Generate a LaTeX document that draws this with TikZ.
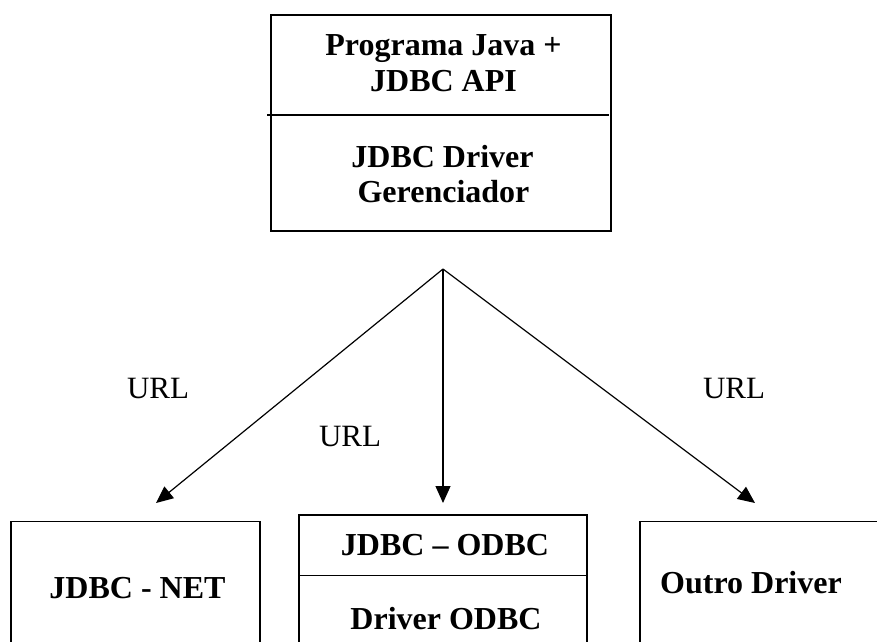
\documentclass[tikz,border=0pt]{standalone}
\usepackage{fontspec}
\setmainfont{Liberation Serif}
\usetikzlibrary{arrows.meta}
\tikzset{
  box/.style={draw, line width=1.4pt, inner sep=0pt},
  divider/.style={line width=1.4pt},
  lbl/.style={font=\bfseries\fontsize{32}{36}\selectfont, anchor=base, inner sep=0pt},
  url/.style={font=\fontsize{31}{36}\selectfont, anchor=base, inner sep=0pt},
  conn/.style={line width=1.2pt, -{Triangle[length=17pt,width=15pt]}},
  stem/.style={line width=1.2pt}
}
\begin{document}
\begin{tikzpicture}[x=1pt,y=-1pt]
\clip (0,0) rectangle (877,641);
\fill[white] (0,0) rectangle (877,641);
% top box
\node[box, minimum width=340pt, minimum height=216pt] (top) at (441,123) {};
\coordinate (dl) at (267,115);
\coordinate (dr) at (609,115);
\draw[divider] (dl) -- (dr);
\node[lbl] (t1) at (443.5,55) {Programa Java +};
\node[lbl] (t2) at (443.5,91) {JDBC API};
\node[lbl] (t3) at (442.5,167) {JDBC Driver};
\node[lbl] (t4) at (443.5,202.5) {Gerenciador};
% bottom boxes
\node[box, minimum width=249pt, minimum height=200pt] (left) at (135.5,621.5) {};
\node[box, minimum width=288pt, minimum height=200pt] (mid) at (443,615) {};
\node[box, minimum width=300pt, minimum height=200pt] (right) at (790,621.5) {};
\coordinate (ml) at (299,575.5);
\coordinate (mr) at (588,575.5);
\draw[divider] (ml) -- (mr);
\node[lbl] (b1) at (137.5,598) {JDBC - NET};
\node[lbl] (b2) at (445,555) {JDBC -- ODBC};
\node[lbl] (b3) at (446,629) {Driver ODBC};
\node[lbl] (b4) at (751,593) {Outro Driver};
% connectors
\coordinate (apex) at (443,269);
\coordinate (tipL) at (156,503);
\coordinate (tipM) at (443,503);
\coordinate (tipR) at (755,503);
\draw[conn] (apex) -- (tipL);
\draw[conn] (apex) -- (tipM);
\draw[conn] (apex) -- (tipR);
\node[url] (u1) at (158,398.5) {URL};
\node[url] (u2) at (350,446.5) {URL};
\node[url] (u3) at (734,398.5) {URL};
\end{tikzpicture}
\end{document}
